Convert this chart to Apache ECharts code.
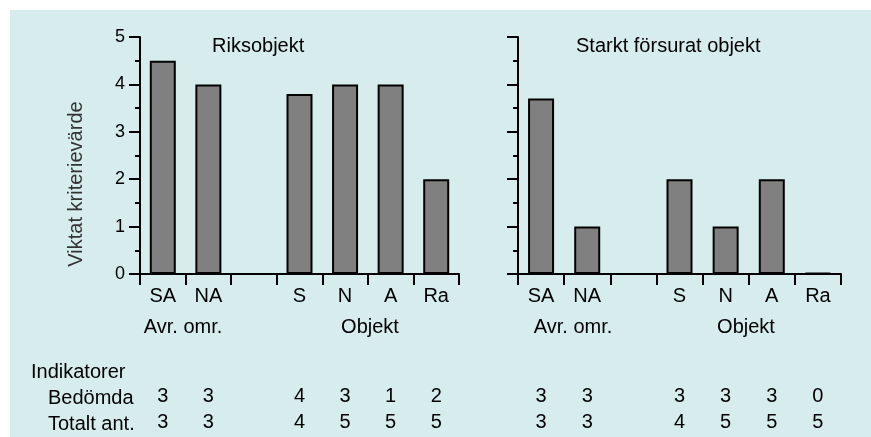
<!DOCTYPE html>
<html>
<head>
<meta charset="utf-8">
<script src="https://cdn.jsdelivr.net/npm/echarts@6/dist/echarts.min.js"></script>
<style>
html,body{margin:0;padding:0;background:#fff;}
#c{width:871px;height:437px;}
</style>
</head>
<body>
<div id="c"></div>
<script>
const categories = ['SA', 'NA', '', 'S', 'N', 'A', 'Ra'];
const riksValues = [4.5, 4.0, '-', 3.8, 4.0, 4.0, 2.0];
const starktValues = [3.7, 1.0, '-', 2.0, 1.0, 2.0, 0];
const riksBedomda = ['3', '3', '', '4', '3', '1', '2'];
const riksTotalt = ['3', '3', '', '4', '5', '5', '5'];
const starktBedomda = ['3', '3', '', '3', '3', '3', '0'];
const starktTotalt = ['3', '3', '', '4', '5', '5', '5'];
const yMin = 0, yMax = 5, yInterval = 1;
const titles = ['Riksobjekt', 'Starkt försurat objekt'];
const groupLabels = ['Avr. omr.', 'Objekt'];
const rowLabels = ['Indikatorer', 'Bedömda', 'Totalt ant.'];
const yName = 'Viktat kriterievärde';

const FONT = "'Liberation Sans', Arial, sans-serif";
const chart = echarts.init(document.getElementById('c'), null, {renderer: 'canvas'});

const grids = [
  {left: 140, top: 37, width: 319, height: 237},
  {left: 518, top: 37, width: 323, height: 237}
];

function mainX(gi) {
  return {
    type: 'category', gridIndex: gi, data: categories, position: 'bottom',
    boundaryGap: true,
    axisLine: {show: true, lineStyle: {color: '#000', width: 2}},
    axisTick: {show: true, length: 11, inside: false, lineStyle: {color: '#000', width: 2}},
    axisLabel: {show: true, interval: 0, margin: 12, color: '#000', fontSize: 20, fontFamily: FONT},
    splitLine: {show: false}
  };
}
function rowX(gi, arr, offset) {
  return {
    type: 'category', gridIndex: gi, data: categories, position: 'bottom', offset: offset,
    boundaryGap: true,
    axisLine: {show: false}, axisTick: {show: false}, splitLine: {show: false},
    axisLabel: {show: true, interval: 0, margin: 0, color: '#000', fontSize: 20, fontFamily: FONT,
      formatter: function (v, i) { return arr[i]; }}
  };
}
function yAx(gi, showLabel) {
  return {
    type: 'value', gridIndex: gi, min: yMin, max: yMax, interval: yInterval,
    axisLine: {show: true, lineStyle: {color: '#000', width: 2}},
    axisTick: {show: true, length: 11, lineStyle: {color: '#000', width: 2}},
    minorTick: {show: true, splitNumber: 2, length: 5, lineStyle: {color: '#000', width: 2}},
    axisLabel: {show: showLabel, margin: 15, color: '#000', fontSize: 18, fontFamily: FONT},
    splitLine: {show: false}, minorSplitLine: {show: false}
  };
}
const barStyle = {color: '#808080', borderColor: '#000', borderWidth: 2};

const option = {
  backgroundColor: '#ffffff',
  animation: false,
  grid: grids,
  xAxis: [
    mainX(0), mainX(1),
    rowX(0, riksBedomda, 112), rowX(0, riksTotalt, 138),
    rowX(1, starktBedomda, 112), rowX(1, starktTotalt, 138)
  ],
  yAxis: [yAx(0, true), yAx(1, false)],
  series: [
    {type: 'bar', xAxisIndex: 0, yAxisIndex: 0, data: riksValues, barWidth: 26, itemStyle: barStyle, z: 1},
    {type: 'bar', xAxisIndex: 1, yAxisIndex: 1, data: starktValues, barWidth: 26, barMinHeight: 1, itemStyle: barStyle, z: 1}
  ],
  graphic: [
    {type: 'rect', z: -10, silent: true, shape: {x: 10, y: 10, width: 861, height: 427}, style: {fill: '#d7ecec'}},
    {type: 'text', x: 212, y: 46, style: {text: titles[0], font: '20px ' + FONT, fill: '#000', textVerticalAlign: 'middle'}},
    {type: 'text', x: 576, y: 46, style: {text: titles[1], font: '20px ' + FONT, fill: '#000', textVerticalAlign: 'middle'}},
    {type: 'text', x: 183, y: 327, style: {text: groupLabels[0], font: '20px ' + FONT, fill: '#000', textAlign: 'center', textVerticalAlign: 'middle'}},
    {type: 'text', x: 370, y: 327, style: {text: groupLabels[1], font: '20px ' + FONT, fill: '#000', textAlign: 'center', textVerticalAlign: 'middle'}},
    {type: 'text', x: 573, y: 327, style: {text: groupLabels[0], font: '20px ' + FONT, fill: '#000', textAlign: 'center', textVerticalAlign: 'middle'}},
    {type: 'text', x: 746, y: 327, style: {text: groupLabels[1], font: '20px ' + FONT, fill: '#000', textAlign: 'center', textVerticalAlign: 'middle'}},
    {type: 'text', x: 31, y: 372, style: {text: rowLabels[0], font: '20px ' + FONT, fill: '#000', textVerticalAlign: 'middle'}},
    {type: 'text', x: 48, y: 398, style: {text: rowLabels[1], font: '20px ' + FONT, fill: '#000', textVerticalAlign: 'middle'}},
    {type: 'text', x: 48, y: 424, style: {text: rowLabels[2], font: '20px ' + FONT, fill: '#000', textVerticalAlign: 'middle'}},
    {type: 'text', x: 76, y: 184, rotation: Math.PI / 2, style: {text: yName, font: '20px ' + FONT, fill: '#333', textAlign: 'center', textVerticalAlign: 'middle'}}
  ]
};
chart.setOption(option);
</script>
</body>
</html>
